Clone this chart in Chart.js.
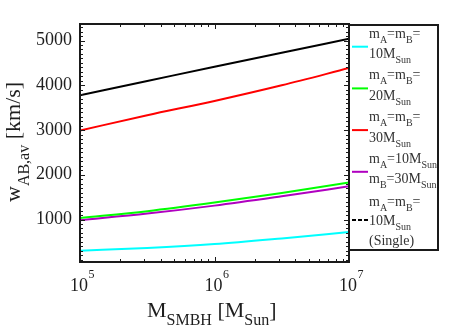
<!DOCTYPE html>
<html><head><meta charset="utf-8">
<script src="https://cdn.jsdelivr.net/npm/chart.js@4/dist/chart.umd.min.js"></script>
<style>html,body{margin:0;padding:0;background:#fff;}canvas{display:block;}</style>
</head><body>
<canvas id="c" width="463" height="328" style="width:463px;height:328px"></canvas>
<script>
// ---- data ----
const massSMBH = [100000, 316228, 1000000, 3162278, 10000000];
const w10 = [304, 365, 452, 578, 718];
const w20 = [1035, 1185, 1378, 1593, 1830];
const w30 = [2990, 3330, 3650, 4000, 4385];
const w10_30 = [985, 1133, 1310, 1519, 1741];
const w10single = [3778, 4096, 4415, 4727, 5040];
const yTicks = [1000, 2000, 3000, 4000, 5000];
const xTicks = [100000, 1000000, 10000000];
const xTickExp = ['5', '6', '7'];

const SERIF = '"Liberation Serif", "Times New Roman", serif';
const TXT = '#1e1e1e';

function pts(arr){ return massSMBH.map((x,i)=>({x:x, y:arr[i]})); }
function ds(arr, color){
  return {data: pts(arr), borderColor: color, backgroundColor: color, borderWidth: 2,
          pointRadius: 0, fill: false, cubicInterpolationMode: 'monotone'};
}

// draw rich text: parts = [[text, 'n'|'sub'|'sup'], ...]
function rich(ctx, x, y, parts, size, subSize, subOff){
  let cx = x;
  for (const [t, k] of parts){
    if (k === 'n'){ ctx.font = size + 'px ' + SERIF; ctx.fillText(t, cx, y); }
    else if (k === 'sub'){ ctx.font = subSize + 'px ' + SERIF; ctx.fillText(t, cx, y + subOff); }
    else { ctx.font = subSize + 'px ' + SERIF; ctx.fillText(t, cx, y - subOff); }
    cx += ctx.measureText(t).width;
  }
  return cx - x;
}

const framePlugin = {
  id: 'frame',
  afterDraw(chart){
    const ctx = chart.ctx, a = chart.chartArea;
    const xs = chart.scales.x, ys = chart.scales.y;
    ctx.save();
    ctx.strokeStyle = '#1a1a1a';
    // ticks
    ctx.lineWidth = 1;
    ctx.beginPath();
    for (let d = 5; d < 7; d++){
      for (let m = 1; m <= 9; m++){
        const v = m * Math.pow(10, d);
        const px = Math.round(xs.getPixelForValue(v)) + 0.5;
        const L = (m === 1) ? 5 : 3;
        ctx.moveTo(px, a.bottom); ctx.lineTo(px, a.bottom - L);
        ctx.moveTo(px, a.top); ctx.lineTo(px, a.top + L);
      }
    }
    for (let v = 100; v <= 5300; v += 100){
      const py = Math.round(ys.getPixelForValue(v)) + 0.5;
      const L = (v % 1000 === 0) ? 5 : 3;
      ctx.moveTo(a.left, py); ctx.lineTo(a.left + L, py);
      ctx.moveTo(a.right, py); ctx.lineTo(a.right - L, py);
    }
    ctx.stroke();
    // frame
    ctx.lineWidth = 2;
    ctx.strokeRect(a.left, a.top, a.right - a.left, a.bottom - a.top);

    // x tick labels
    ctx.fillStyle = TXT;
    ctx.textBaseline = 'alphabetic';
    xTicks.forEach((v, i) => {
      const px = xs.getPixelForValue(v);
      ctx.font = '18px ' + SERIF;
      ctx.fillText('10', px - 10, 291);
      const w = ctx.measureText('10').width;
      ctx.font = '12px ' + SERIF;
      ctx.fillText(xTickExp[i], px - 10 + w + 0.5, 278);
    });

    // x title
    rich(ctx, 147, 317, [['M','n'],['SMBH','sub'],[' [M','n'],['Sun','sub'],[']','n']], 22, 16, 8);

    // y title (rotated)
    ctx.save();
    ctx.translate(20, 202);
    ctx.rotate(-Math.PI/2);
    rich(ctx, 0, 0, [['w','n'],['AB,av','sub'],[' [km/s]','n']], 22, 16, 9);
    ctx.restore();

    // legend box
    const lx0 = a.right, lx1 = 438, ly0 = 25, ly1 = 250;
    ctx.lineWidth = 2;
    ctx.strokeStyle = '#1a1a1a';
    ctx.strokeRect(lx0, ly0, lx1 - lx0, ly1 - ly0);
    const entries = [
      {c:'#00ffff', y:46.7, lines:[
        [['m','n'],['A','sub'],['=m','n'],['B','sub'],['=','n']],
        [['10M','n'],['Sun','sub']]], base:[37.5, 58]},
      {c:'#00ff00', y:88.4, lines:[
        [['m','n'],['A','sub'],['=m','n'],['B','sub'],['=','n']],
        [['20M','n'],['Sun','sub']]], base:[79.2, 99.8]},
      {c:'#ff0000', y:130.1, lines:[
        [['m','n'],['A','sub'],['=m','n'],['B','sub'],['=','n']],
        [['30M','n'],['Sun','sub']]], base:[120.9, 141.5]},
      {c:'#b000c0', y:171.8, lines:[
        [['m','n'],['A','sub'],['=10M','n'],['Sun','sub']],
        [['m','n'],['B','sub'],['=30M','n'],['Sun','sub']]], base:[162.6, 183.2]},
      {c:'#000000', y:220, dash:true, lines:[
        [['m','n'],['A','sub'],['=m','n'],['B','sub'],['=','n']],
        [['10M','n'],['Sun','sub']],
        [['(Single)','n']]], base:[205.5, 225, 245]}
    ];
    entries.forEach(e => {
      ctx.strokeStyle = e.c;
      ctx.lineWidth = 2;
      ctx.setLineDash(e.dash ? [4, 2] : []);
      ctx.beginPath();
      ctx.moveTo(352, e.y); ctx.lineTo(368, e.y);
      ctx.stroke();
      ctx.setLineDash([]);
      ctx.fillStyle = '#333';
      e.lines.forEach((ln, i) => rich(ctx, 369, e.base[i], ln, 14, 10, 5));
    });
    ctx.restore();
  }
};

new Chart(document.getElementById('c'), {
  type: 'line',
  data: { datasets: [
    ds(w10, '#00ffff'),
    ds(w20, '#00ff00'),
    ds(w30, '#ff0000'),
    ds(w10_30, '#b000c0'),
    ds(w10single, '#000000')
  ]},
  options: {
    responsive: false, animation: false, devicePixelRatio: 1,
    layout: { padding: { left: 0, right: 114, top: 24, bottom: 0 } },
    plugins: { legend: { display: false }, tooltip: { enabled: false } },
    scales: {
      x: { type: 'logarithmic', min: 100000, max: 10000000,
           ticks: { display: false }, grid: { display: false, drawTicks: false },
           border: { display: false },
           afterFit(s){ s.height = 66; } },
      y: { type: 'linear', min: 50, max: 5370,
           afterBuildTicks(s){ s.ticks = yTicks.map(v => ({value: v})); },
           ticks: { font: { family: SERIF, size: 18 }, color: TXT, padding: 8,
                    callback: v => String(v) },
           grid: { display: false, drawTicks: false },
           border: { display: false },
           afterFit(s){ s.width = 80; } }
    }
  },
  plugins: [framePlugin]
});
</script>
</body></html>
